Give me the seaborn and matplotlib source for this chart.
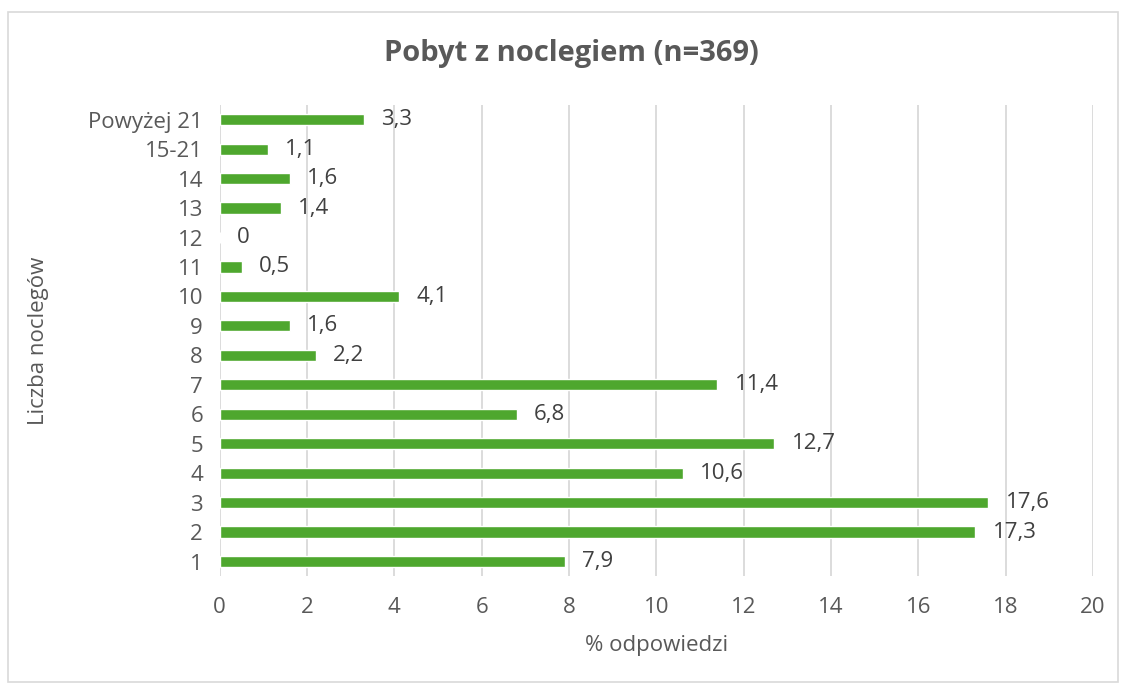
import matplotlib
matplotlib.use("Agg")
import matplotlib.pyplot as plt
import matplotlib.patches as mpatches
import seaborn as sns
import pandas as pd

categories = ["1", "2", "3", "4", "5", "6", "7", "8", "9", "10", "11", "12", "13", "14", "15-21", "Powyżej 21"]
values = [7.9, 17.3, 17.6, 10.6, 12.7, 6.8, 11.4, 2.2, 1.6, 4.1, 0.5, 0, 1.4, 1.6, 1.1, 3.3]
value_labels = ["7,9", "17,3", "17,6", "10,6", "12,7", "6,8", "11,4", "2,2", "1,6", "4,1", "0,5", "0", "1,4", "1,6", "1,1", "3,3"]
x_ticks = [0, 2, 4, 6, 8, 10, 12, 14, 16, 18, 20]

sns.set_theme(style="white")
plt.rcParams['font.family'] = ['Open Sans', 'DejaVu Sans']

GREEN = "#4EA72E"
TXT = "#595959"

df = pd.DataFrame({"cat": categories[::-1], "val": values[::-1]})

fig = plt.figure(figsize=(11.21, 6.86), dpi=100)
ax = fig.add_axes([0.196, 0.160, 0.779, 0.687])

sns.barplot(data=df, x="val", y="cat", orient="h", color=GREEN, width=0.38,
            saturation=1, ax=ax, order=categories[::-1])

ax.set_xlim(0, 20)
ax.set_xticks(x_ticks)
ax.set_xticklabels([str(t) for t in x_ticks])
ax.grid(axis="x", color="#D9D9D9", linewidth=1.3)
ax.set_axisbelow(True)
for s in ax.spines.values():
    s.set_visible(False)
ax.tick_params(axis="both", length=0, labelsize=16, labelcolor=TXT)
ax.tick_params(axis="x", pad=15)
ax.tick_params(axis="y", pad=12)

labels_rev = value_labels[::-1]
for i, (v, lab) in enumerate(zip(values[::-1], labels_rev)):
    ax.text(v + 0.4, i, lab, va="center", ha="left", fontsize=16, color="#404040")

ax.set_xlabel("% odpowiedzi", fontsize=16, color=TXT, labelpad=12)
ax.set_ylabel("Liczba noclegów", fontsize=16, color=TXT, labelpad=28)

fig.text(0.510, 0.922, "Pobyt z noclegiem (n=369)", ha="center", va="center",
         fontsize=21, fontweight="bold", color=TXT)

fig.patches.append(mpatches.Rectangle((0.007, 0.006), 0.990, 0.977, transform=fig.transFigure,
                                      fill=False, edgecolor="#D9D9D9", linewidth=1.2))

fig.savefig("out.png", dpi=100, facecolor="white")
